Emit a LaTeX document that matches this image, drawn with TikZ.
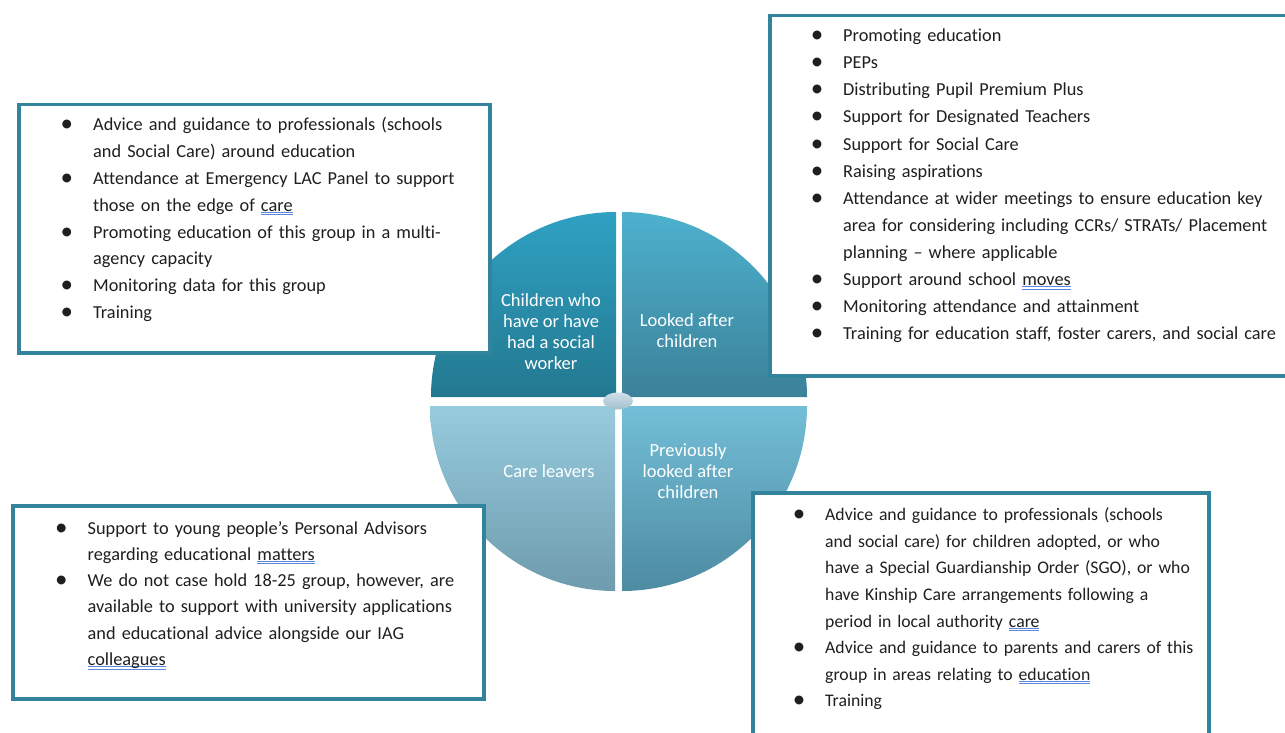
\documentclass[tikz,border=0pt]{standalone}
\usepackage{fontspec}
\setmainfont{Carlito}[Ligatures={TeX,NoCommon}]

\definecolor{frame}{HTML}{31849B}
\definecolor{textgray}{HTML}{1F1F1F}
\definecolor{chkblue}{HTML}{5B86DC}
\definecolor{qatop}{HTML}{2FA1C3}
\definecolor{qabot}{HTML}{237890}
\definecolor{qbtop}{HTML}{4DB1CE}
\definecolor{qbbot}{HTML}{3C8199}
\definecolor{qctop}{HTML}{97CBDE}
\definecolor{qcbot}{HTML}{6E9BAD}
\definecolor{qdtop}{HTML}{73BED7}
\definecolor{qdbot}{HTML}{4D8BA1}
\definecolor{hubtop}{HTML}{CFE0E8}
\definecolor{hubbot}{HTML}{A3BFCD}

% double underline under flagged words
\newsavebox\chkbox
\newcommand\chk[1]{\leavevmode\sbox\chkbox{#1}%
  \rlap{\color{chkblue}\rule[-1.6pt]{\wd\chkbox}{0.8pt}}%
  \rlap{\color{chkblue}\rule[-3.8pt]{\wd\chkbox}{0.8pt}}#1}
% list bullet hung left of the text
\newcommand\bul{\leavevmode\llap{\raisebox{-1pt}{\fontsize{25}{25}\selectfont\textbullet}\hspace{20pt}}}

\begin{document}
\begin{tikzpicture}[
  x=1pt, y=-1pt,
  every node/.style={font=\fontsize{18.3}{26.8}\selectfont},
  quarter/.style={shading=axis, shading angle=0},
  seglabel/.style={text=white, align=center, inner sep=0pt,
    font=\fontsize{18.5}{21}\selectfont},
  infobox/.style={draw=frame, line width=3.5pt, fill=white, anchor=north west, inner sep=0pt},
  infotext/.style={anchor=base west, inner sep=0pt, text width=470pt, align=left, text=textgray}
]
\useasboundingbox[fill=white] (0,0) rectangle (1285,733);

% the four quarters of the disc
\path[quarter, top color=qatop, bottom color=qabot]
  (616,397) -- (431,397) arc[start angle=180, end angle=270, radius=185] -- cycle;
\path[quarter, top color=qbtop, bottom color=qbbot]
  (622,397) -- (622,212) arc[start angle=270, end angle=360, radius=185] -- cycle;
\path[quarter, top color=qctop, bottom color=qcbot]
  (615,406) -- (615,591) arc[start angle=90, end angle=180, radius=185] -- cycle;
\path[quarter, top color=qdtop, bottom color=qdbot]
  (622,406) -- (807,406) arc[start angle=0, end angle=90, radius=185] -- cycle;
\path[top color=hubtop, bottom color=hubbot] (618,401) ellipse[x radius=15, y radius=8.5];

\node[seglabel] (social) at (551,332) {Children who\\have or have\\had a social\\worker};
\node[seglabel] (lac) at (687,331) {Looked after\\children};
\node[seglabel] (leavers) at (549,471) {Care leavers};
\node[seglabel] (plac) at (688,471) {Previously\\looked after\\children};

% text boxes
\node[infobox, minimum width=471pt, minimum height=248pt] (socialbox) at (17,103) {};
\node[infobox, minimum width=530pt, minimum height=360pt] (lacbox) at (768,14) {};
\node[infobox, minimum width=471pt, minimum height=193pt] (leaversbox) at (11,504) {};
\node[infobox, minimum width=456pt, minimum height=262pt] (placbox) at (751,491) {};

\node[infotext] (sociallist) at (93,131) {%
  \bul Advice and guidance to professionals (schools\\
  and Social Care) around education\\
  \bul Attendance at Emergency LAC Panel to support\\
  those on the edge of \chk{care}\\
  \bul Promoting education of this group in a multi-\\
  agency capacity\\
  \bul Monitoring data for this group\\
  \bul Training};

\node[infotext, font=\fontsize{18.3}{27.1}\selectfont] (laclist) at (843,41.7) {%
  \bul Promoting education\\
  \bul PEPs\\
  \bul Distributing Pupil Premium Plus\\
  \bul Support for Designated Teachers\\
  \bul Support for Social Care\\
  \bul Raising aspirations\\
  \bul Attendance at wider meetings to ensure education key\\
  area for considering including CCRs/ STRATs/ Placement\\
  planning -- where applicable\\
  \bul Support around school \chk{moves}\\
  \bul Monitoring attendance and attainment\\
  \bul Training for education staff, foster carers, and social care};

\node[infotext, font=\fontsize{18.3}{26.3}\selectfont] (leaverslist) at (87.5,534) {%
  \bul Support to young people’s Personal Advisors\\
  regarding educational \chk{matters}\\
  \bul We do not case hold 18-25 group, however, are\\
  available to support with university applications\\
  and educational advice alongside our IAG\\
  \chk{colleagues}};

\node[infotext, font=\fontsize{17.7}{26.6}\selectfont] (placlist) at (825,520.7) {%
  \bul Advice and guidance to professionals (schools\\
  and social care) for children adopted, or who\\
  have a Special Guardianship Order (SGO), or who\\
  have Kinship Care arrangements following a\\
  period in local authority \chk{care}\\
  \bul Advice and guidance to parents and carers of this\\
  group in areas relating to \chk{education}\\
  \bul Training};
\end{tikzpicture}
\end{document}
